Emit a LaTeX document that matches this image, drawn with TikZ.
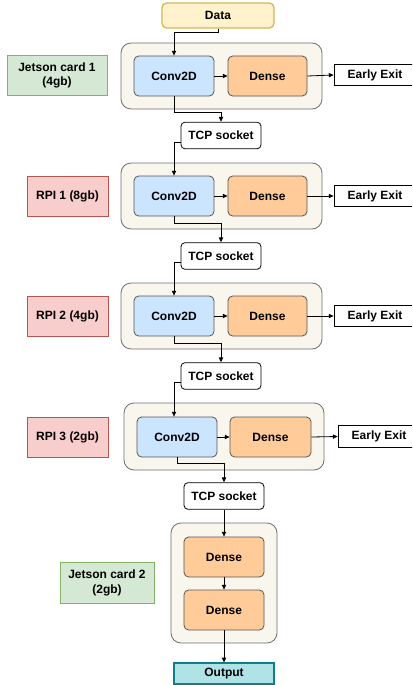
\documentclass[tikz,border=0pt]{standalone}
\usepackage{fontspec}
\setmainfont{Liberation Sans}
\usetikzlibrary{arrows.meta,calc}
\definecolor{contfill}{HTML}{F9F7ED}
\definecolor{contline}{HTML}{6E6E6E}
\definecolor{boxline}{HTML}{555555}
\definecolor{convfill}{HTML}{CCE5FF}
\definecolor{densefill}{HTML}{FFCC99}
\definecolor{datafill}{HTML}{FFF2CC}
\definecolor{dataline}{HTML}{D6B656}
\definecolor{outfill}{HTML}{B0E3E6}
\definecolor{outline}{HTML}{0E8088}
\definecolor{greenfill}{HTML}{D5E8D4}
\definecolor{greenline}{HTML}{82B366}
\definecolor{redfill}{HTML}{F8CECC}
\definecolor{redline}{HTML}{B85450}
\begin{document}
\begin{tikzpicture}[x=0.75pt,y=-0.75pt,
  font=\bfseries\fontsize{9}{11}\selectfont,
  box/.style={draw=boxline, line width=0.6pt, align=center, inner sep=0pt, rounded corners=3.5pt},
  container/.style={draw=contline, fill=contfill, line width=0.6pt, rounded corners=7.5pt, inner sep=0pt},
  convbox/.style={box, fill=convfill, minimum width=60pt, minimum height=30pt},
  densebox/.style={box, fill=densefill, minimum width=60pt, minimum height=30pt},
  eebox/.style={draw=black, fill=white, line width=0.6pt, minimum width=61.5pt, minimum height=16pt, inner sep=0pt},
  tcpbox/.style={draw=black, fill=white, line width=0.6pt, rounded corners=3pt, minimum width=60pt, minimum height=20pt, inner sep=0pt},
  greenbox/.style={draw=greenline, fill=greenfill, line width=0.6pt, align=center, inner sep=0pt, minimum height=30.5pt},
  redbox/.style={draw=redline, fill=redfill, line width=0.6pt, align=center, inner sep=0pt, minimum width=60.75pt, minimum height=30pt},
  arr/.style={draw=black, line width=0.6pt, -{Triangle[length=3.6pt,width=3.2pt]}}
]
\useasboundingbox (0,0) rectangle (412,685);
\clip (0,0) rectangle (412,685);

% containers
\node[container, minimum width=150.75pt, minimum height=49.5pt] (c1) at (221.5,76) {};
\node[container, minimum width=150.75pt, minimum height=49.5pt] (c2) at (221.5,196) {};
\node[container, minimum width=150.75pt, minimum height=49.5pt] (c3) at (221.5,316) {};
\node[container, minimum width=150pt, minimum height=50.25pt] (c4) at (224,436.5) {};
\node[container, minimum width=79.5pt, minimum height=90pt] (c5) at (224,583) {};

% data
\node[draw=dataline, fill=datafill, line width=1pt, rounded corners=3.5pt, minimum width=84pt, minimum height=18.75pt, inner sep=0pt] (data) at (218,15.5) {Data};

% stage 1
\node[convbox] (conv1) at (174,76) {Conv2D};
\node[densebox, minimum width=59.25pt] (dense1) at (267.5,76) {Dense};
\node[eebox] (ee1) at (375,75) {Early Exit};
\node[greenbox, minimum width=75pt] (jet1) at (57,75.5) {Jetson card 1\\(4gb)};
\node[tcpbox] (tcp1) at (221,135.5) {TCP socket};

% stage 2
\node[convbox] (conv2) at (174,196) {Conv2D};
\node[densebox, minimum width=59.25pt] (dense2) at (267.5,196) {Dense};
\node[eebox] (ee2) at (375,196) {Early Exit};
\node[redbox] (rpi1) at (67.5,196) {RPI 1 (8gb)};
\node[tcpbox] (tcp2) at (221,256) {TCP socket};

% stage 3
\node[convbox] (conv3) at (174,316) {Conv2D};
\node[densebox, minimum width=59.25pt] (dense3) at (267.5,316) {Dense};
\node[eebox] (ee3) at (375,316) {Early Exit};
\node[redbox] (rpi2) at (67.5,316) {RPI 2 (4gb)};
\node[tcpbox] (tcp3) at (221,376) {TCP socket};

% stage 4
\node[convbox] (conv4) at (177,437) {Conv2D};
\node[densebox, minimum width=60.75pt] (dense4) at (270.5,437) {Dense};
\node[eebox] (ee4) at (379,436.5) {Early Exit};
\node[redbox] (rpi3) at (67.5,437) {RPI 3 (2gb)};
\node[tcpbox] (tcp4) at (224,496) {TCP socket};

% stage 5
\node[densebox] (d5a) at (224,557) {Dense};
\node[densebox] (d5b) at (224,610) {Dense};
\node[greenbox, minimum width=70.5pt] (jet2) at (107,583) {Jetson card 2\\(2gb)};
\node[draw=outline, fill=outfill, line width=0.8pt, minimum width=75pt, minimum height=15.75pt, inner sep=0pt] (out) at (224,673.5) {Output};

% connectors
\draw[arr] (data.south) -- ++(0,4) -| (conv1.north);
\foreach \i in {1,2,3,4} {
  \draw[arr] (conv\i.east) -- (dense\i.west);
  \draw[arr] (dense\i.east) -- (ee\i.west);
}
\draw[arr] (conv1.south) -- ++(0,16) -| (tcp1.north);
\draw[arr] ([yshift=-4.9pt]tcp1.west) -| (conv2.north);
\draw[arr] (conv2.south) -- ++(0,7) -| (tcp2.north);
\draw[arr] ([yshift=-4.9pt]tcp2.west) -| (conv3.north);
\draw[arr] (conv3.south) -- ++(0,7) -| (tcp3.north);
\draw[arr] ([yshift=-4.9pt]tcp3.west) -| ([xshift=-2.25pt]conv4.north);
\draw[arr] (conv4.south) -- ++(0,6) -| (tcp4.north);
\draw[arr] (tcp4.south) -- (d5a.north);
\draw[arr] (d5a.south) -- (d5b.north);
\draw[arr] (d5b.south) -- (out.north);
\end{tikzpicture}
\end{document}
